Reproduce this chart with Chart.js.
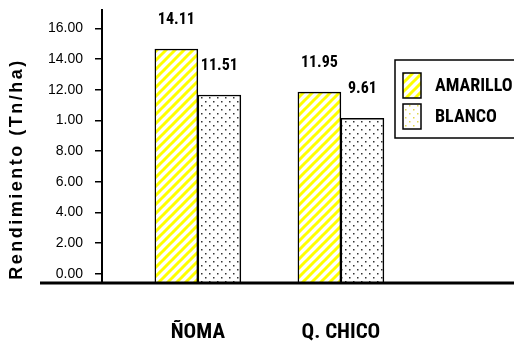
<!DOCTYPE html>
<html lang="es">
<head>
<meta charset="UTF-8">
<title>Rendimiento (Tn/ha)</title>
<script src="https://cdn.jsdelivr.net/npm/chart.js"></script>
<style>
    html, body { margin: 0; padding: 0; background: #ffffff; }
    .chart-container { position: relative; width: 514px; height: 342px; }
</style>
</head>
<body>
<div class="chart-container"><canvas id="mainChart"></canvas></div>
<script>
var categories = ['ÑOMA', 'Q. CHICO'];
var seriesNames = ['AMARILLO', 'BLANCO'];
var amarillo = [14.66, 11.85];
var blanco = [11.66, 10.13];
var amarilloLabels = ['14.11', '11.95'];
var blancoLabels = ['11.51', '9.61'];
var yTicks = [0, 2, 4, 6, 8, 10, 12, 14, 16];
var yTickLabels = ['0.00', '2.00', '4.00', '6.00', '8.00', '1.00', '12.00', '14.00', '16.00'];
var yTitle = 'Rendimiento (Tn/ha)';

var narrow = "'Roboto Condensed', 'Open Sans Condensed', sans-serif";
var Y_MIN = -0.6;

function stripePattern() {
    var c = document.createElement('canvas');
    c.width = 9; c.height = 9;
    var g = c.getContext('2d');
    g.fillStyle = '#ffffff';
    g.fillRect(0, 0, 9, 9);
    g.strokeStyle = '#ffff00';
    g.lineWidth = 3;
    g.beginPath();
    [-9, 0, 9].forEach(function(o) {
        g.moveTo(o - 1, 10);
        g.lineTo(o + 10, -1);
    });
    g.stroke();
    return g.createPattern(c, 'repeat');
}

function dotPattern(color) {
    var c = document.createElement('canvas');
    c.width = 8; c.height = 8;
    var g = c.getContext('2d');
    g.fillStyle = '#ffffff';
    g.fillRect(0, 0, 8, 8);
    g.fillStyle = color;
    g.fillRect(1, 1, 1.5, 1.5);
    g.fillRect(5, 5, 1.5, 1.5);
    return g.createPattern(c, 'repeat');
}

var barLabels = [amarilloLabels, blancoLabels];

// etiquetas de valores sobre las barras
var valueLabels = {
    id: 'valueLabels',
    afterDatasetsDraw: function(chart) {
        var ctx = chart.ctx;
        ctx.save();
        ctx.font = 'bold 16px ' + narrow;
        ctx.fillStyle = '#000';
        ctx.textAlign = 'center';
        ctx.textBaseline = 'middle';
        chart.data.datasets.forEach(function(ds, i) {
            chart.getDatasetMeta(i).data.forEach(function(bar, j) {
                ctx.fillText(barLabels[i][j], bar.x, bar.y - 29);
            });
        });
        ctx.restore();
    }
};

// linea base, titulo del eje y leyenda con recuadro
var decorations = {
    id: 'decorations',
    afterDraw: function(chart) {
        var ctx = chart.ctx;
        var area = chart.chartArea;
        ctx.save();

        ctx.strokeStyle = '#000';
        ctx.lineWidth = 3;
        ctx.beginPath();
        ctx.moveTo(area.left - 62, area.bottom);
        ctx.lineTo(chart.width, area.bottom);
        ctx.stroke();

        ctx.save();
        ctx.translate(area.left - 85, area.bottom - 114);
        ctx.rotate(-Math.PI / 2);
        ctx.font = "bold 18px 'Liberation Sans', Arial, sans-serif";
        ctx.letterSpacing = '2.5px';
        ctx.fillStyle = '#000';
        ctx.textAlign = 'center';
        ctx.textBaseline = 'middle';
        ctx.fillText(yTitle, 0, 0);
        ctx.restore();

        var bx = area.right - 119, by = area.top + 50;
        ctx.fillStyle = '#fff';
        ctx.fillRect(bx, by, 130, 78);
        ctx.lineWidth = 1.5;
        ctx.strokeStyle = '#000';
        ctx.strokeRect(bx, by, 130, 78);

        ctx.font = 'bold 18px ' + narrow;
        ctx.textBaseline = 'middle';
        chart.data.datasets.forEach(function(ds, i) {
            var sy = by + 13 + i * 31;
            ctx.fillStyle = ds.legendFill;
            ctx.fillRect(bx + 8, sy, 18, 25);
            ctx.strokeRect(bx + 8, sy, 18, 25);
            ctx.fillStyle = '#000';
            ctx.fillText(ds.label, bx + 40, sy + 13);
        });
        ctx.restore();
    }
};

var ctx = document.getElementById('mainChart').getContext('2d');
var chart = new Chart(ctx, {
    type: 'bar',
    data: {
        datasets: [
            {
                label: seriesNames[0],
                data: amarillo.map(function(v, i) { return { x: i + 1, y: v }; }),
                backgroundColor: stripePattern(),
                legendFill: stripePattern(),
                borderColor: '#000',
                borderWidth: 1.5,
                base: Y_MIN,
                barThickness: 43
            },
            {
                label: seriesNames[1],
                data: blanco.map(function(v, i) { return { x: i + 1, y: v }; }),
                backgroundColor: dotPattern('#333333'),
                legendFill: dotPattern('#e0d850'),
                borderColor: '#000',
                borderWidth: 1.5,
                base: Y_MIN,
                barThickness: 43
            }
        ]
    },
    options: {
        responsive: true,
        maintainAspectRatio: false,
        animation: false,
        layout: { padding: { top: 10, left: 0, right: 0, bottom: 0 } },
        plugins: {
            legend: { display: false },
            tooltip: { enabled: false }
        },
        scales: {
            x: {
                type: 'linear',
                offset: false,
                min: 0.33,
                max: 3.21,
                afterBuildTicks: function(scale) {
                    scale.ticks = categories.map(function(c, i) { return { value: i + 1 }; });
                },
                afterFit: function(scale) {
                    scale.height = 59;
                    scale.paddingLeft = 0;
                    scale.paddingRight = 0;
                },
                grid: { display: false },
                border: { display: false },
                ticks: {
                    autoSkip: false,
                    maxRotation: 0,
                    padding: 29,
                    color: '#000',
                    font: { family: narrow, size: 21, weight: 'bold' },
                    callback: function(value, index) { return categories[index]; }
                }
            },
            y: {
                min: Y_MIN,
                max: 17.2,
                afterBuildTicks: function(scale) {
                    scale.ticks = yTicks.map(function(v) { return { value: v }; });
                },
                afterFit: function(scale) {
                    scale.width = 102;
                    scale.paddingTop = 0;
                    scale.paddingBottom = 0;
                },
                grid: {
                    display: true,
                    drawOnChartArea: false,
                    drawTicks: true,
                    tickLength: 7,
                    color: '#000',
                    lineWidth: 1.5
                },
                border: { display: true, color: '#000', width: 2 },
                ticks: {
                    padding: 12,
                    color: '#000',
                    font: { family: "'Liberation Sans', Arial, sans-serif", size: 14 },
                    callback: function(value, index) { return yTickLabels[index]; }
                }
            }
        }
    },
    plugins: [valueLabels, decorations]
});
</script>
</body>
</html>
